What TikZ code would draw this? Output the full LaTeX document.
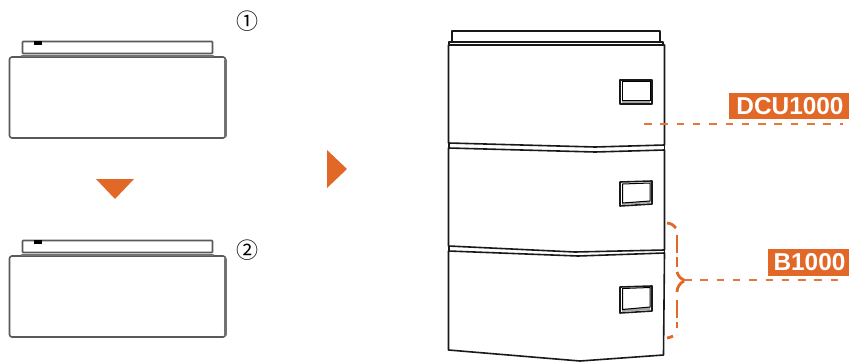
\documentclass[tikz,border=0pt]{standalone}
\usepackage{fontspec}
\setmainfont{Liberation Sans}
\newfontfamily\symfont{Noto Sans CJK SC}
\definecolor{tagorange}{HTML}{E26828}
\tikzset{
  topbox/.style={draw=black!65, line width=1.6pt, rounded corners=0.8pt, minimum width=190pt, minimum height=12pt, inner sep=0pt},
  basebox/.style={draw=black!65, line width=1.6pt, rounded corners=2.5pt, minimum width=216pt, minimum height=81pt, inner sep=0pt},
  edgeline/.style={draw=black!55, line width=2.4pt, line cap=round},
  slot/.style={fill=black, minimum width=8pt, minimum height=4.5pt, inner sep=0pt},
  stepnum/.style={font=\symfont\fontsize{22}{24}\selectfont, inner sep=0pt},
  tagbox/.style={fill=tagorange, text=white, font=\bfseries\fontsize{24.4}{26}\selectfont, inner sep=0pt},
  unitline/.style={draw=black!90, line width=1.6pt, line join=round},
  leader/.style={draw=tagorange!90, line width=1.4pt, dash pattern=on 7.5pt off 8.8pt},
  bracket/.style={draw=tagorange, line width=2.8pt},
}
\begin{document}
\begin{tikzpicture}[x=1pt,y=-1pt]
\useasboundingbox (0,0) rectangle (849,362);
\node[topbox] (top1) at (117.5,47.5) {};
\node[slot] (slot1) at (37.5,43.2) {};
\node[basebox] (base1) at (117.5,97.5) {};
\draw[edgeline] (22,56) -- (213,56);
\draw[edgeline] (225.5,60) -- (225.5,136);
\node[stepnum] (num1) at (247,21) {①};
\fill[tagorange] (96,179) -- (134,179) -- (115,199) -- cycle;
\node[topbox] (top2) at (117.5,246.5) {};
\node[slot] (slot2) at (37.5,242.2) {};
\node[basebox] (base2) at (117.5,296.5) {};
\draw[edgeline] (22,255) -- (213,255);
\draw[edgeline] (225.5,259) -- (225.5,335);
\node[stepnum] (num2) at (247,250) {②};
\fill[tagorange] (327,150) -- (347,169) -- (327,188) -- cycle;
% stack
\draw[unitline] (452,42) -- (452,31) -- (660,31) -- (660,42);
\draw[unitline] (449,45) -- (449,42) -- (663,42) -- (663,45);
\draw[unitline] (448.5,45) -- (664.5,45) -- (664.5,145) -- (595,147) -- (448.5,143) -- cycle;
\draw[unitline] (449,143) -- (449,148);
\draw[unitline] (664.5,145) -- (664.5,150);
\draw[unitline] (448.5,148) -- (595,152) -- (664.5,150) -- (664.5,250) -- (575,252) -- (448.5,246) -- cycle;
\draw[unitline] (449,246) -- (449,251);
\draw[unitline] (664.5,250) -- (664.5,253);
\draw[unitline] (448.5,251) -- (578,256) -- (664.5,253) -- (663.5,355) -- (580,361) -- (448.5,350) -- cycle;
\draw[unitline] (620,80) rectangle (652,104);
\fill[black!35] (622,100) rectangle (650,103);
\draw[line width=1pt] (622.5,81.5) rectangle (650,100);
\draw[unitline] (620,182) -- (652,181) -- (652,204) -- (620,206) -- cycle;
\fill[black!35] (622,203) -- (650,201) -- (650,203) -- (622,205) -- cycle;
\draw[line width=1pt] (622.5,184) -- (650,183) -- (650,201) -- (622.5,203) -- cycle;
\draw[unitline] (620,287) -- (652,286) -- (652,311) -- (620,313) -- cycle;
\fill[black!35] (622,309) -- (650,307) -- (650,310) -- (622,312) -- cycle;
\draw[line width=1pt] (622.5,288.5) -- (650,287.5) -- (650,307) -- (622.5,309.5) -- cycle;
% tags
\coordinate (dcustart) at (644,124);
\coordinate (dcuend) at (843,124);
\coordinate (bstart) at (684,280);
\coordinate (bend) at (843,280);
\node[tagbox, minimum width=120pt, minimum height=26pt] (dcu) at (789,106) {\hspace{2pt}DCU1000};
\node[tagbox, minimum width=81pt, minimum height=27pt] (bat) at (808.5,262.5) {\hspace{2pt}B1000};
\draw[leader] (dcustart) -- (dcuend);
\draw[leader] (bstart) -- (bend);
\draw[bracket] (667,223) .. controls (671,223.5) and (674,225) .. (676,228);
\foreach \ya/\yb in {235/253, 257/267, 300/318, 322/328}
  \draw[bracket] (677,\ya) -- (677,\yb);
\draw[bracket] (677,272) .. controls (678,276) and (681,279) .. (684,280);
\draw[bracket] (684,281) .. controls (680,283) and (677,287) .. (677,292);
\draw[bracket] (667,338) .. controls (669,337.8) and (671,337) .. (673,336);
\end{tikzpicture}
\end{document}
